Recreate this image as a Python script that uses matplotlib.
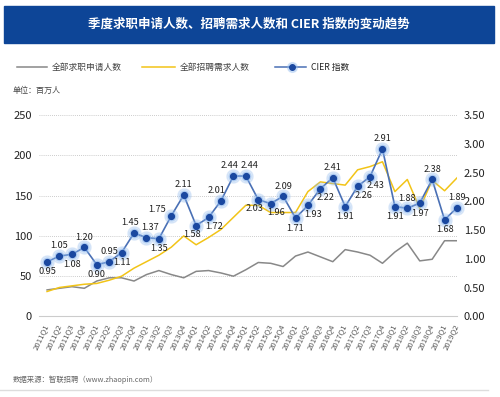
import numpy as np
import matplotlib
matplotlib.use("Agg")
import matplotlib.pyplot as plt
from matplotlib.lines import Line2D
from matplotlib.patches import Rectangle

plt.rcParams['font.family'] = ['Noto Sans CJK SC', 'DejaVu Sans']

# data
quarters = [f"{y}Q{q}" for y in range(2011, 2020) for q in range(1, 5)][:34]
applicants = [33, 35, 37, 35, 44, 48, 48, 44, 52, 57, 52, 48, 56, 57, 54, 50,
              58, 67, 66, 62, 75, 80, 74, 68, 83, 80, 76, 66, 80, 91, 69, 71, 94, 94]
openings = [31, 36, 38, 40, 41, 45, 50, 60, 68, 76, 86, 100, 89, 98, 108, 123,
            138, 138, 129, 129, 129, 155, 167, 165, 163, 182, 186, 192, 155, 170, 134, 169, 156, 172]
cier = [0.95, 1.05, 1.08, 1.20, 0.90, 0.95, 1.11, 1.45, 1.37, 1.35, 1.75, 2.11,
        1.58, 1.72, 2.01, 2.44, 2.44, 2.03, 1.96, 2.09, 1.71, 1.93, 2.22, 2.41,
        1.91, 2.26, 2.43, 2.91, 1.91, 1.88, 1.97, 2.38, 1.68, 1.89]

# where each CIER label goes (a=above, b=below, r/l = nudged right/left)
label_pos = ['b', 'a', 'b', 'a', 'b', 'a', 'b', 'al', 'ar', 'b', 'l', 'a',
             'bl', 'br', 'al', 'al', 'ar', 'bl', 'br', 'a', 'b', 'br', 'br', 'a',
             'b', 'br', 'br', 'a', 'b', 'a', 'b', 'a', 'b', 'a']

offsets = {'a': (0, 4, 'center', 'bottom'), 'b': (0, -4, 'center', 'top'),
           'ar': (3, 4, 'center', 'bottom'), 'al': (-3, 4, 'center', 'bottom'),
           'br': (4, -3, 'center', 'top'), 'bl': (-3, -3, 'center', 'top'),
           'l': (-4, 1, 'right', 'bottom')}

fig = plt.figure(figsize=(5, 3.97), dpi=100)

# title band
fig.patches.append(Rectangle((0.008, 0.8917), 0.98, 0.0932, transform=fig.transFigure,
                             color='#0d4597', zorder=0))
fig.text(0.498, 0.938, "季度求职申请人数、招聘需求人数和 CIER 指数的变动趋势",
         color='white', fontsize=9, fontweight='bold', ha='center', va='center')

# legend (drawn by hand)
ly = 0.831
fig.add_artist(Line2D([0.034, 0.094], [ly, ly], color='#888888', lw=1.1))
fig.text(0.104, ly, "全部求职申请人数", fontsize=6.3, color='#444444', va='center')
fig.add_artist(Line2D([0.284, 0.350], [ly, ly], color='#f2c417', lw=1.1))
fig.text(0.360, ly, "全部招聘需求人数", fontsize=6.3, color='#444444', va='center')
fig.add_artist(Line2D([0.550, 0.612], [ly, ly], color='#4a70b5', lw=1.1))
fig.add_artist(Line2D([0.584], [ly], marker='o', ms=7, color='#8db8ee', alpha=0.35, lw=0))
fig.add_artist(Line2D([0.584], [ly], marker='o', ms=4, color='#1a48a0', lw=0))
fig.text(0.622, ly, "CIER 指数", fontsize=6.3, color='#222222', va='center')

fig.text(0.026, 0.773, "单位：百万人", fontsize=5.8, color='#444444', va='center')

ax = fig.add_axes([0.078, 0.2028, 0.836, 0.5075])
x = np.arange(len(quarters))
ax.plot(x, applicants, color='#888888', lw=1.1, zorder=2)
ax.plot(x, openings, color='#f2c417', lw=1.1, zorder=2)
ax.set_xlim(-0.65, 33.0)
ax.set_ylim(0, 250)
ax.set_yticks(range(0, 251, 50))
ax.yaxis.grid(True, color='#bbbbbb', ls=(0, (1, 1.5)), lw=0.6)
ax.set_axisbelow(True)
for s in ['top', 'right', 'left']:
    ax.spines[s].set_visible(False)
ax.spines['bottom'].set_color('#cccccc')
ax.spines['bottom'].set_linewidth(0.8)
ax.tick_params(axis='y', length=0, pad=5, labelsize=8, labelcolor='#222222')
ax.set_xticks(x)
ax.set_xticklabels(quarters, rotation=65, ha='right', va='center',
                   rotation_mode='anchor', fontsize=5.6, color='#555555')
ax.tick_params(axis='x', length=0, pad=6)
for t in ax.get_yticklabels():
    t.set_fontweight('medium')

ax2 = ax.twinx()
ax2.set_ylim(0, 3.5)
ax2.set_yticks(np.arange(0, 3.51, 0.5))
ax2.set_yticklabels([f"{v:.2f}" for v in np.arange(0, 3.51, 0.5)])
ax2.tick_params(axis='y', length=0, pad=5, labelsize=8, labelcolor='#222222')
for t in ax2.get_yticklabels():
    t.set_fontweight('medium')
for s in ax2.spines.values():
    s.set_visible(False)

ax2.plot(x, cier, color='#4a70b5', lw=1.2, zorder=3, clip_on=False)
ax2.plot(x, cier, 'o', ms=9.5, color='#8db8ee', alpha=0.25, zorder=3, clip_on=False)
ax2.plot(x, cier, 'o', ms=6.5, color='#8db8ee', alpha=0.4, zorder=3, clip_on=False)
ax2.plot(x, cier, 'o', ms=4.2, color='#1a48a0', zorder=4, clip_on=False)

for i, v in enumerate(cier):
    dx, dy, ha, va = offsets[label_pos[i]]
    ax2.annotate(f"{v:.2f}", (i, v), xytext=(dx, dy), textcoords='offset points',
                 ha=ha, va=va, fontsize=6.6, color='#222222', zorder=5)

fig.text(0.026, 0.043, "数据来源：智联招聘（www.zhaopin.com）", fontsize=5.3,
         color='#666666', va='center')
fig.add_artist(Line2D([0.0, 0.975], [0.018, 0.018], color='#dddddd', lw=1))

fig.savefig("out.png", dpi=100)
